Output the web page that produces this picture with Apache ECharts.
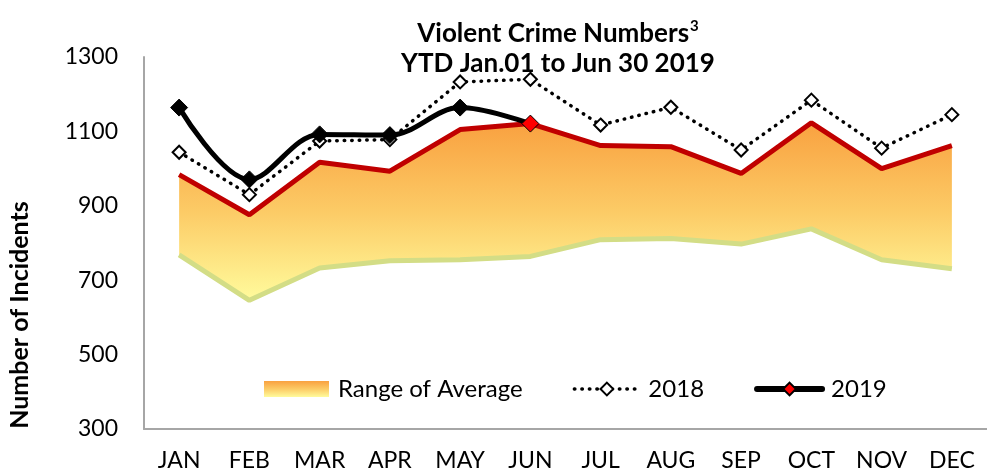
<!DOCTYPE html>
<html lang="en">
<head>
  <meta charset="UTF-8" />
  <title>Violent Crime Numbers</title>
  <script src="https://cdn.jsdelivr.net/npm/echarts@6.0.0/dist/echarts.min.js"></script>
  <style>
    html, body { margin: 0; padding: 0; background: #fff; }
    #chart { width: 987px; height: 474px; }
  </style>
</head>
<body>
  <div id="chart"></div>
  <script>
    // data
    const months = ['JAN', 'FEB', 'MAR', 'APR', 'MAY', 'JUN', 'JUL', 'AUG', 'SEP', 'OCT', 'NOV', 'DEC'];
    const avgLow = [768, 646, 733, 752, 755, 764, 809, 812, 797, 838, 755, 731];
    const avgHigh = [984, 876, 1017, 993, 1105, 1121, 1062, 1059, 987, 1123, 1000, 1062];
    const y2018 = [1044, 930, 1074, 1078, 1233, 1240, 1117, 1165, 1050, 1184, 1055, 1145];
    const y2019 = [1164, 971, 1092, 1090, 1164, 1121];

    const font = 'Lato, "Open Sans", sans-serif';

    const rangeGradient = new echarts.graphic.LinearGradient(0, 0, 0, 1, [
      { offset: 0, color: '#F9A140' },
      { offset: 0.5, color: '#FCCB66' },
      { offset: 1, color: '#FFFB9C' }
    ]);

    const chart = echarts.init(document.getElementById('chart'));

    chart.setOption({
      animation: false,
      textStyle: { fontFamily: font },
      title: {
        text: 'Violent Crime Numbers{sup|3}\nYTD Jan.01 to Jun 30 2019',
        left: 553,
        top: 14,
        textAlign: 'center',
        textStyle: {
          fontFamily: font,
          fontSize: 26,
          fontWeight: 'bold',
          color: '#000',
          lineHeight: 30,
          rich: {
            sup: { fontSize: 15, fontWeight: 'bold', verticalAlign: 'top', padding: [0, 0, 14, 1], fontFamily: font, color: '#000' }
          }
        }
      },
      graphic: [{
        type: 'text',
        x: 20,
        y: 315,
        rotation: Math.PI / 2,
        style: {
          text: 'Number of Incidents',
          font: 'bold 25px ' + font,
          fill: '#000',
          align: 'center',
          verticalAlign: 'middle'
        }
      }],
      legend: {
        left: 259,
        top: 372,
        itemWidth: 65,
        itemHeight: 16,
        itemGap: 50,
        textStyle: { fontSize: 24, color: '#000', fontFamily: font, padding: [0, 0, 0, 4] },
        data: [
          { name: 'Range of Average', icon: 'rect', itemStyle: { color: rangeGradient } },
          { name: '2018', lineStyle: { width: 3.5, type: [0.5, 7], cap: 'round', color: '#000' } },
          { name: '2019', lineStyle: { width: 6, color: '#000', cap: 'round' } }
        ]
      },
      grid: { left: 144, right: -15, top: 57, bottom: 45 },
      xAxis: {
        type: 'category',
        data: months,
        boundaryGap: true,
        axisLine: { lineStyle: { color: '#A6A6A6', width: 2 } },
        axisTick: { show: false },
        axisLabel: { fontSize: 23, color: '#000', margin: 20, fontFamily: font }
      },
      yAxis: {
        type: 'value',
        min: 300,
        max: 1300,
        interval: 200,
        axisLine: { show: true, lineStyle: { color: '#A6A6A6', width: 2 } },
        axisTick: { show: false },
        splitLine: { show: false },
        axisLabel: { fontSize: 23, color: '#000', margin: 26, fontFamily: font, formatter: v => String(v) }
      },
      series: [
        {
          name: 'low',
          type: 'line',
          stack: 'range',
          data: avgLow,
          symbol: 'none',
          lineStyle: { width: 0 },
          z: 1
        },
        {
          name: 'Range of Average',
          type: 'line',
          stack: 'range',
          data: avgHigh.map((v, i) => v - avgLow[i]),
          symbol: 'none',
          lineStyle: { width: 0 },
          itemStyle: { color: '#F9A140' },
          areaStyle: { color: rangeGradient, opacity: 1 },
          z: 1
        },
        {
          name: 'lowLine',
          type: 'line',
          data: avgLow,
          symbol: 'none',
          lineStyle: { color: '#D3DD86', width: 5 },
          z: 2
        },
        {
          name: 'highLine',
          type: 'line',
          data: avgHigh,
          symbol: 'none',
          lineStyle: { color: '#C00000', width: 5 },
          z: 2
        },
        {
          name: '2018',
          type: 'line',
          data: y2018,
          symbol: 'diamond',
          symbolSize: 13,
          lineStyle: { color: '#000', width: 3.5, type: [0.5, 7], cap: 'round' },
          itemStyle: { color: '#fff', borderColor: '#000', borderWidth: 2 },
          z: 3
        },
        {
          name: '2019',
          type: 'line',
          data: y2019.map((v, i) => i < y2019.length - 1
            ? { value: v, itemStyle: { color: '#000' } }
            : v),
          smooth: 0.35,
          symbol: 'diamond',
          symbolSize: 17,
          lineStyle: { color: '#000', width: 5 },
          itemStyle: { color: '#FF0000', borderColor: '#000', borderWidth: 1 },
          z: 4
        }
      ]
    });
  </script>
</body>
</html>
